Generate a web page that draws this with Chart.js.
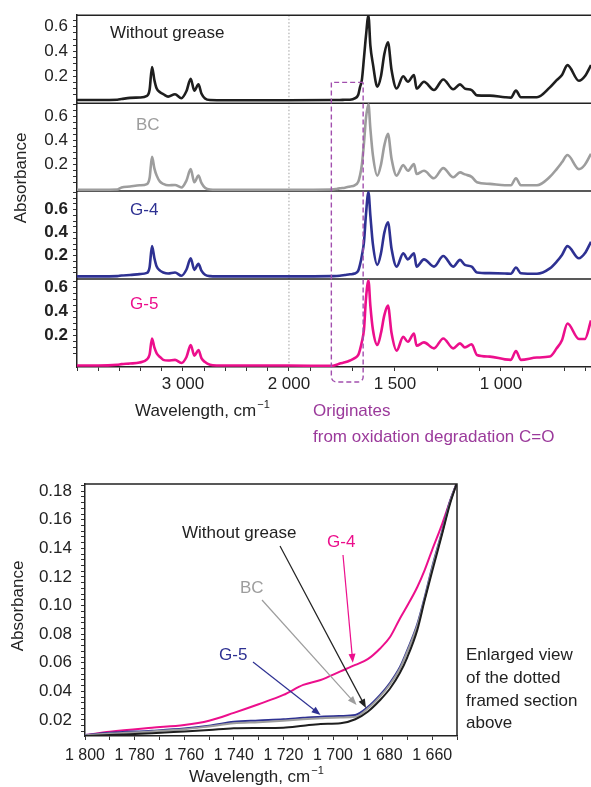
<!DOCTYPE html>
<html>
<head>
<meta charset="utf-8">
<script src="https://cdn.jsdelivr.net/npm/chart.js@4.4.1/dist/chart.umd.min.js"></script>
<style>
body{margin:0;background:#fff;}
#wrap{position:relative;width:591px;height:787px;overflow:hidden;}
#spec{position:absolute;left:0;top:0;}
#zoom{position:absolute;left:0;top:460px;}
</style>
</head>
<body>
<div id="wrap">
<canvas id="spec" width="591" height="460"></canvas>
<canvas id="zoom" width="591" height="327"></canvas>
</div>
<script>
const FONT='"Liberation Sans", Arial, sans-serif';

// ---- full spectra (wavenumber, cm-1) ----
const wn=[4000,3800,3620,3580,3500,3410,3340,3315,3292,3270,3248,3217,3186,3140,3075,3015,2967,2927,2893,2854,2826,2792,2745,2680,2400,2000,
	1800,1775,1760,1736,1712,1690,1673,1665,1656,1646,1637,1625,1616,1604,1583,1566,1550,1533,1516,1492,1461,1439,1410,1398,1363,1316,1272,1225,1193,1170,1138,1113,1052,981,953,929,906,830,769,737,712,686,632,604,575];

const absWG=[0.008,0.008,0.01,0.015,0.025,0.028,0.04,0.09,0.275,0.17,0.10,0.07,0.055,0.035,0.054,0.022,0.08,0.18,0.083,0.134,0.06,0.02,0.007,0.006,0.006,0.006,
	0.007,0.008,0.008,0.009,0.01,0.02,0.05,0.11,0.17,0.35,0.52,0.69,0.45,0.3,0.115,0.2,0.38,0.475,0.25,0.10,0.2,0.155,0.21,0.10,0.155,0.088,0.174,0.094,0.134,0.1,0.088,0.045,0.043,0.03,0.027,0.083,0.03,0.03,0.11,0.168,0.21,0.29,0.163,0.2,0.29];
const absBC=[-0.007,-0.007,-0.005,0.012,0.02,0.03,0.04,0.09,0.265,0.17,0.11,0.06,0.042,0.03,0.033,0.012,0.07,0.164,0.055,0.11,0.05,0.01,-0.005,-0.007,-0.007,-0.007,
	-0.005,0.0,0.005,0.01,0.02,0.03,0.06,0.11,0.2,0.38,0.58,0.70,0.5,0.28,0.11,0.2,0.36,0.455,0.25,0.11,0.197,0.15,0.205,0.123,0.15,0.088,0.172,0.096,0.137,0.12,0.1,0.055,0.042,0.03,0.03,0.088,0.03,0.03,0.1,0.164,0.22,0.28,0.164,0.2,0.29];
const absG4=[0.02,0.02,0.022,0.028,0.032,0.04,0.05,0.1,0.283,0.18,0.105,0.07,0.054,0.045,0.054,0.026,0.08,0.177,0.077,0.129,0.07,0.034,0.022,0.02,0.02,0.02,
	0.022,0.024,0.026,0.032,0.038,0.045,0.07,0.12,0.2,0.32,0.55,0.75,0.55,0.3,0.12,0.22,0.4,0.49,0.26,0.105,0.22,0.168,0.22,0.105,0.168,0.105,0.197,0.105,0.163,0.12,0.105,0.054,0.048,0.045,0.043,0.097,0.048,0.043,0.09,0.148,0.206,0.283,0.177,0.22,0.32];
const absG5=[-0.052,-0.052,-0.045,-0.04,-0.035,-0.026,0.0,0.04,0.175,0.1,0.05,0.02,-0.004,-0.01,-0.004,-0.03,0.02,0.12,0.031,0.078,0.01,-0.023,-0.045,-0.051,-0.052,-0.052,
	-0.055,-0.045,-0.035,-0.025,-0.01,0.01,0.037,0.08,0.147,0.25,0.5,0.66,0.45,0.25,0.12,0.22,0.37,0.45,0.22,0.073,0.188,0.147,0.216,0.114,0.142,0.092,0.175,0.092,0.134,0.1,0.126,0.037,0.023,0.0,-0.004,0.07,-0.004,0.015,0.023,0.092,0.16,0.3,0.17,0.17,0.326];

// tick marks / labels on the spectrum axis
const topTickWn=[4000,3800,3600,3400,3200,3000,2800,2600,2400,2200,2000,1900,1700,1500,1300,1100,1000,900,700,600];
const topLabelWn=[3000,2000,1500,1000];

// ---- enlarged 1800-1650 region ----
const zoomWn=[1800,1790,1773,1760,1750,1740,1730,1720,1712,1705,1697,1691,1686,1681,1677,1673,1670,1666,1663,1660,1656,1653,1650];
const zoomWG=[0.0088,0.0095,0.0107,0.012,0.013,0.0142,0.0144,0.0146,0.016,0.0172,0.0177,0.0205,0.0258,0.034,0.042,0.053,0.064,0.083,0.104,0.124,0.15,0.17,0.186];
const zoomBC=[0.0092,0.0105,0.012,0.0135,0.0155,0.0177,0.0185,0.0195,0.0205,0.0212,0.0218,0.0222,0.028,0.0365,0.045,0.056,0.068,0.086,0.105,0.126,0.151,0.171,0.186];
const zoomBlue=[0.0095,0.011,0.0125,0.014,0.016,0.0188,0.0197,0.0205,0.0215,0.0223,0.0228,0.0235,0.029,0.0375,0.046,0.057,0.069,0.087,0.106,0.127,0.152,0.172,0.186];
const zoomPink=[0.0095,0.0118,0.0146,0.0165,0.0195,0.025,0.031,0.0375,0.0445,0.048,0.054,0.0585,0.0625,0.070,0.078,0.091,0.100,0.113,0.125,0.139,0.157,0.172,0.186];

const C_BLACK='#1e1e1e', C_GRAY='#9d9d9d', C_BLUE='#2e3192', C_PINK='#ec0f8c', C_PURPLE='#9b3a9b';

// above 2000 cm-1 the axis is compressed 2:1
function toAxis(w){ return w<=2000 ? w : 2000+(w-2000)/2; }
function fromAxis(u){ return u<=2000 ? u : 2000+(u-2000)*2; }
function fmtWn(w){
	if(w>=1000){ return Math.floor(w/1000)+' '+String(w%1000).padStart(3,'0'); }
	return String(w);
}
function pts(xs,ys,f){ return xs.map((x,i)=>({x:f?f(x):x,y:ys[i]})); }
function isMult(v,s){ const k=Math.round(v/s); return Math.abs(v-k*s)<1e-7; }

function text(ctx,s,x,y,color,size,align,weight){
	ctx.save();
	ctx.fillStyle=color;
	ctx.font=(weight||'normal')+' '+size+'px '+FONT;
	ctx.textAlign=align||'left';
	ctx.textBaseline='middle';
	ctx.fillText(s,x,y);
	ctx.restore();
}
function cmTitle(ctx,x,y){
	ctx.save();
	ctx.fillStyle='#222';
	ctx.font='17px '+FONT;
	ctx.textBaseline='middle';
	ctx.fillText('Wavelength, cm',x,y);
	const w=ctx.measureText('Wavelength, cm').width;
	ctx.font='11px '+FONT;
	ctx.fillText('\u22121',x+w+1,y-6);
	ctx.restore();
}
function vtext(ctx,s,x,y){
	ctx.save();
	ctx.translate(x,y);
	ctx.rotate(-Math.PI/2);
	ctx.fillStyle='#222';
	ctx.font='17px '+FONT;
	ctx.textAlign='center';
	ctx.textBaseline='middle';
	ctx.fillText(s,0,0);
	ctx.restore();
}

function panelAxis(min,max,bold,weight){
	return {
		type:'linear', position:'left', stack:'spec', stackWeight:1, weight:weight,
		min:min, max:max,
		afterFit:function(s){ s.width=77; },
		afterBuildTicks:function(s){
			let t=[];
			for(let k=1;k*0.05<=max;k++){ t.push({value:k*0.05}); }
			s.ticks=t;
		},
		grid:{drawOnChartArea:false, drawTicks:true, tickLength:4, color:'#333'},
		border:{display:true, color:'#222', width:1.5},
		ticks:{autoSkip:false, padding:5, color:'#222', font:{family:FONT,size:17,weight:bold?'bold':'normal'},
			callback:function(v){ return (isMult(v,0.2) && v>0.1) ? v.toFixed(1) : ''; }}
	};
}

function spec(label,data,axis,color){
	return {label:label, data:pts(wn,data,toAxis), yAxisID:axis, borderColor:color, borderWidth:2.6,
		pointRadius:0, fill:false, cubicInterpolationMode:'monotone'};
}

const topDeco={
	id:'topDeco',
	beforeDatasetsDraw:function(chart){
		const ctx=chart.ctx, a=chart.chartArea, x=chart.scales.x;
		ctx.save();
		// dotted line at 2000
		const px=x.getPixelForValue(toAxis(2000));
		ctx.strokeStyle='#a0a0a0'; ctx.lineWidth=1; ctx.setLineDash([1.5,2]);
		ctx.beginPath(); ctx.moveTo(px,a.top); ctx.lineTo(px,a.bottom); ctx.stroke();
		ctx.setLineDash([]);
		// panel frames
		ctx.strokeStyle='#222'; ctx.lineWidth=1.5;
		['yWG','yBC','yG4','yG5'].forEach(function(id){
			const s=chart.scales[id];
			ctx.beginPath(); ctx.moveTo(a.left,s.top); ctx.lineTo(a.right,s.top); ctx.stroke();
		});
		ctx.restore();
	},
	afterDatasetsDraw:function(chart){
		const ctx=chart.ctx, a=chart.chartArea, x=chart.scales.x;
		const l=x.getPixelForValue(toAxis(1800)), r=x.getPixelForValue(toAxis(1650));
		const t=chart.scales.yWG.getPixelForValue(0.15), b=a.bottom+15, rad=5;
		ctx.save();
		ctx.strokeStyle='#a24fae'; ctx.lineWidth=1.4; ctx.setLineDash([5,3]);
		ctx.beginPath();
		ctx.moveTo(r,t); ctx.lineTo(l,t); ctx.lineTo(l,b-rad);
		ctx.arcTo(l,b,l+rad,b,rad); ctx.lineTo(r-rad,b);
		ctx.arcTo(r,b,r,b-rad,rad); ctx.lineTo(r,t);
		ctx.stroke();
		ctx.restore();
	},
	afterDraw:function(chart){
		const ctx=chart.ctx;
		text(ctx,'Without grease',110,33,'#222',17);
		text(ctx,'BC',136,125,C_GRAY,17);
		text(ctx,'G-4',130,210,C_BLUE,17);
		text(ctx,'G-5',130,304,C_PINK,17);
		vtext(ctx,'Absorbance',21,178);
		cmTitle(ctx,135,411);
		text(ctx,'Originates',313,411,C_PURPLE,17);
		text(ctx,'from oxidation degradation C=O',313,437,C_PURPLE,17);
	}
};

new Chart(document.getElementById('spec'),{
	type:'line',
	data:{datasets:[
		spec('Without grease',absWG,'yWG',C_BLACK),
		spec('BC',absBC,'yBC',C_GRAY),
		spec('G-4',absG4,'yG4',C_BLUE),
		spec('G-5',absG5,'yG5',C_PINK)
	]},
	options:{
		responsive:false, animation:false,
		layout:{padding:{top:11,right:0,bottom:0,left:0}},
		plugins:{legend:{display:false},tooltip:{enabled:false}},
		scales:{
			x:{type:'linear', reverse:true, min:toAxis(575), max:toAxis(4000),
				afterFit:function(s){ s.height=93; },
				afterBuildTicks:function(s){
					s.ticks=topTickWn.map(w=>({value:toAxis(w)})).sort((p,q)=>p.value-q.value);
				},
				grid:{drawOnChartArea:false, drawTicks:true, tickLength:4, color:'#333'},
				border:{display:true, color:'#222', width:1.5},
				ticks:{autoSkip:false, maxRotation:0, padding:3, color:'#222', font:{family:FONT,size:17},
					callback:function(v){ const w=Math.round(fromAxis(v)); return topLabelWn.includes(w) ? fmtWn(w) : ''; }}
			},
			yG5:panelAxis(-0.064,0.672,true,1),
			yG4:panelAxis(-0.003,0.76,true,2),
			yBC:panelAxis(-0.018,0.709,false,3),
			yWG:panelAxis(-0.018,0.694,false,4)
		}
	},
	plugins:[topDeco]
});

// ---- enlarged view ----
function arrow(ctx,x0,y0,x1,y1,color){
	const ang=Math.atan2(y1-y0,x1-x0), L=9, H=3.5;
	ctx.save();
	ctx.strokeStyle=color; ctx.fillStyle=color; ctx.lineWidth=1.2;
	ctx.beginPath(); ctx.moveTo(x0,y0); ctx.lineTo(x1-Math.cos(ang)*L*0.8,y1-Math.sin(ang)*L*0.8); ctx.stroke();
	ctx.beginPath();
	ctx.moveTo(x1,y1);
	ctx.lineTo(x1-Math.cos(ang)*L-Math.sin(ang)*H, y1-Math.sin(ang)*L+Math.cos(ang)*H);
	ctx.lineTo(x1-Math.cos(ang)*L+Math.sin(ang)*H, y1-Math.sin(ang)*L-Math.cos(ang)*H);
	ctx.closePath(); ctx.fill();
	ctx.restore();
}

const zoomDeco={
	id:'zoomDeco',
	afterDatasetsDraw:function(chart){
		const ctx=chart.ctx, a=chart.chartArea, x=chart.scales.x, y=chart.scales.y;
		ctx.save();
		ctx.strokeStyle='#222'; ctx.lineWidth=1.5;
		ctx.beginPath(); ctx.moveTo(a.left,a.top); ctx.lineTo(a.right,a.top); ctx.lineTo(a.right,a.bottom); ctx.stroke();
		ctx.restore();
		text(ctx,'Without grease',182,73,'#222',17);
		arrow(ctx,280,86,x.getPixelForValue(1686.7),y.getPixelForValue(0.0284),'#222');
		text(ctx,'G-4',327,82,C_PINK,17);
		arrow(ctx,343,95,x.getPixelForValue(1692),y.getPixelForValue(0.060),C_PINK);
		text(ctx,'BC',240,128,C_GRAY,17);
		arrow(ctx,262,140,x.getPixelForValue(1690.5),y.getPixelForValue(0.0305),C_GRAY);
		text(ctx,'G-5',219,195,C_BLUE,17);
		arrow(ctx,253,202,x.getPixelForValue(1705),y.getPixelForValue(0.0235),C_BLUE);
	},
	afterDraw:function(chart){
		const ctx=chart.ctx;
		text(ctx,'Enlarged view',466,195,'#222',17);
		text(ctx,'of the dotted',466,218,'#222',17);
		text(ctx,'framed section',466,241,'#222',17);
		text(ctx,'above',466,263,'#222',17);
		cmTitle(ctx,189,317);
		vtext(ctx,'Absorbance',18,146);
	}
};

function zline(label,data,color){
	return {label:label, data:pts(zoomWn,data), borderColor:color, borderWidth:2, pointRadius:0, fill:false, cubicInterpolationMode:'monotone'};
}

new Chart(document.getElementById('zoom'),{
	type:'line',
	data:{datasets:[
		zline('Without grease',zoomWG,C_BLACK),
		zline('BC',zoomBC,C_GRAY),
		zline('G-5',zoomBlue,C_BLUE),
		zline('G-4',zoomPink,C_PINK)
	]},
	options:{
		responsive:false, animation:false,
		layout:{padding:{top:24,right:134,bottom:0,left:0}},
		plugins:{legend:{display:false},tooltip:{enabled:false}},
		scales:{
			x:{type:'linear', reverse:true, min:1650, max:1800,
				afterFit:function(s){ s.height=51; },
				afterBuildTicks:function(s){
					let t=[];
					for(let w=1650;w<=1800;w+=10){ t.push({value:w}); }
					s.ticks=t;
				},
				grid:{drawOnChartArea:false, drawTicks:true, tickLength:4, color:'#333'},
				border:{display:true, color:'#222', width:1.5},
				ticks:{autoSkip:false, maxRotation:0, padding:6, color:'#222', font:{family:FONT,size:16},
					callback:function(v){ return v%20===0 ? fmtWn(v) : ''; }}
			},
			y:{type:'linear', min:0.0088, max:0.185,
				afterFit:function(s){ s.width=85; },
				afterBuildTicks:function(s){
					let t=[];
					for(let k=3;k*0.004<=0.185;k++){ t.push({value:k*0.004}); }
					s.ticks=t;
				},
				grid:{drawOnChartArea:false, drawTicks:true, tickLength:4, color:'#333'},
				border:{display:true, color:'#222', width:1.5},
				ticks:{autoSkip:false, padding:9, color:'#222', font:{family:FONT,size:17},
					callback:function(v){ return isMult(v,0.02) ? v.toFixed(2) : ''; }}
			}
		}
	},
	plugins:[zoomDeco]
});
</script>
</body>
</html>
